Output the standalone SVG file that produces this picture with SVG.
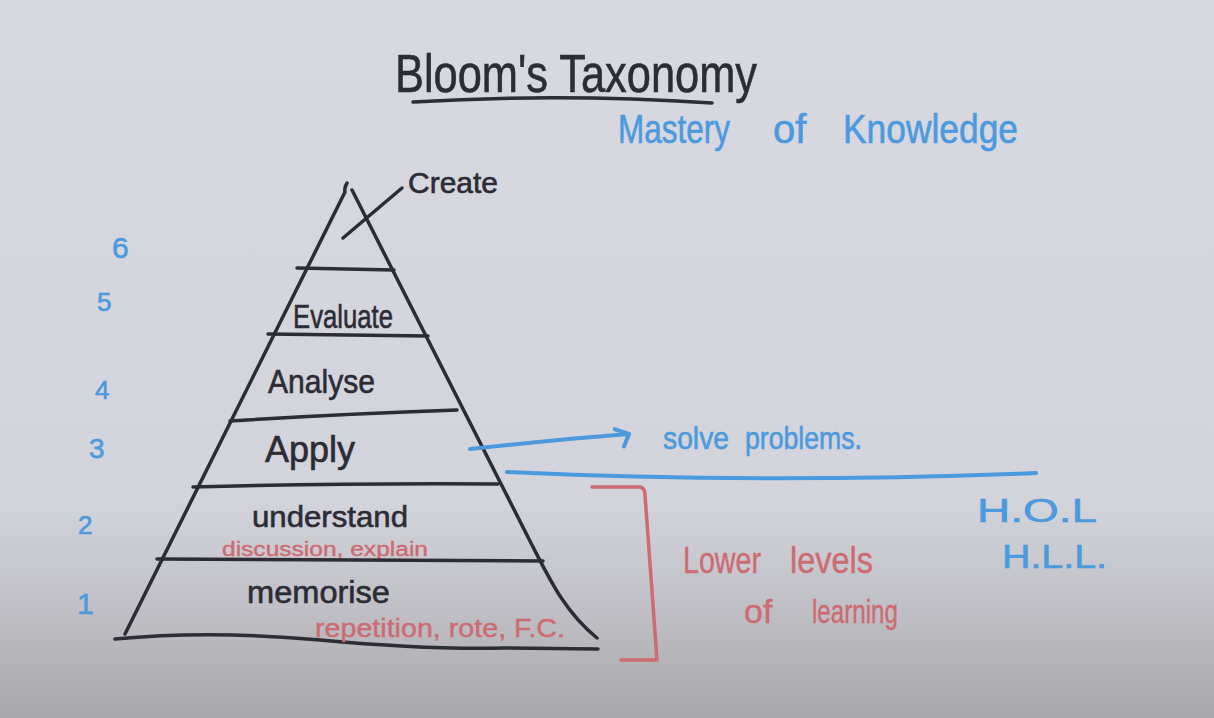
<svg xmlns="http://www.w3.org/2000/svg" width="1214" height="718" viewBox="0 0 1214 718">
  <style>
    .ink { fill: none; stroke: #2c2c34; stroke-width: 3.5; stroke-linecap: round; stroke-linejoin: round; }
    .blue-ink { fill: none; stroke: #4b9ade; stroke-width: 4; stroke-linecap: round; stroke-linejoin: round; }
    .red-ink { fill: none; stroke: #cd6b72; stroke-width: 3.5; stroke-linecap: round; stroke-linejoin: round; }
    text { font-family: "Liberation Sans", "DejaVu Sans", sans-serif; }
    .t-black { fill: #2c2c34; stroke: #2c2c34; stroke-width: 0.6; }
    .t-blue { fill: #4b9ade; stroke: #4b9ade; stroke-width: 0.6; }
    .t-red { fill: #cd6b72; stroke: #cd6b72; stroke-width: 0.4; }
  </style>
  <defs>
    <linearGradient id="board" x1="0" y1="0" x2="0" y2="1">
      <stop offset="0" stop-color="#d8d8e0"/>
      <stop offset="0.70" stop-color="#d3d3db"/>
      <stop offset="0.80" stop-color="#c6c6cd"/>
      <stop offset="0.90" stop-color="#b7b7bc"/>
      <stop offset="1" stop-color="#a8a8ab"/>
    </linearGradient>
    <marker id="chevron" markerUnits="userSpaceOnUse" viewBox="0 0 20 24" refX="16" refY="8" markerWidth="20" markerHeight="24" orient="auto">
      <path d="M2,2 L16,8 L10,20" fill="none" stroke="#4b9ade" stroke-width="4" stroke-linecap="round" stroke-linejoin="round"/>
    </marker>
  </defs>

  <!-- board background -->
  <rect x="0" y="0" width="1214" height="718" fill="url(#board)"/>

  <!-- heading -->
  <g id="title">
    <text class="t-black" x="395" y="92" font-size="54" textLength="362" lengthAdjust="spacingAndGlyphs">Bloom's Taxonomy</text>
    <path class="ink" d="M413,102 Q560,93 712,103" stroke-width="4"/>
  </g>
  <g id="subtitle">
    <text class="t-blue" font-size="40" y="143">
      <tspan x="618" textLength="112" lengthAdjust="spacingAndGlyphs">Mastery</tspan>
      <tspan x="773">of</tspan>
      <tspan x="843" textLength="175" lengthAdjust="spacingAndGlyphs">Knowledge</tspan>
    </text>
  </g>

  <!-- pyramid outline -->
  <g id="pyramid">
    <path class="ink" d="M347,183 Q344,188 345,192 L125,634"/>
    <path class="ink" d="M352,190 L532,545 C550,580 565,612 597,638"/>
    <path class="ink" d="M115,639 Q210,630 320,640 T504,648 L598,649" stroke-width="4"/>
  </g>

  <!-- tiers, top to bottom -->
  <g id="tier-create">
    <text class="t-black" x="408" y="193" font-size="30" textLength="90" lengthAdjust="spacingAndGlyphs">Create</text>
  </g>
  <g id="tier-evaluate">
    <path class="ink" d="M297,268 L394,270"/>
    <text class="t-black" x="293" y="328" font-size="34" textLength="100" lengthAdjust="spacingAndGlyphs">Evaluate</text>
  </g>
  <g id="tier-analyse">
    <path class="ink" d="M268,334 L428,336"/>
    <text class="t-black" x="268" y="393" font-size="34" textLength="107" lengthAdjust="spacingAndGlyphs">Analyse</text>
  </g>
  <g id="tier-apply">
    <path class="ink" d="M230,421 Q340,414 457,410"/>
    <text class="t-black" x="265" y="462" font-size="36" textLength="90" lengthAdjust="spacingAndGlyphs">Apply</text>
  </g>
  <g id="tier-understand">
    <path class="ink" d="M193,487 Q340,483 498,484"/>
    <text class="t-black" x="252" y="527" font-size="30" textLength="156" lengthAdjust="spacingAndGlyphs">understand</text>
    <text class="t-red" x="222" y="556" font-size="20" textLength="206" lengthAdjust="spacingAndGlyphs">discussion, explain</text>
  </g>
  <g id="tier-memorise">
    <path class="ink" d="M157,559 L543,561"/>
    <text class="t-black" x="247" y="603" font-size="31" textLength="143" lengthAdjust="spacingAndGlyphs">memorise</text>
    <text class="t-red" x="315" y="637" font-size="25" textLength="250" lengthAdjust="spacingAndGlyphs">repetition, rote, F.C.</text>
  </g>

  <!-- level numbers -->
  <g id="levels">
    <text class="t-blue" x="112" y="258" font-size="30">6</text>
    <text class="t-blue" x="97" y="311" font-size="26">5</text>
    <text class="t-blue" x="95" y="399" font-size="26">4</text>
    <text class="t-blue" x="89" y="458" font-size="28">3</text>
    <text class="t-blue" x="78" y="534" font-size="26">2</text>
    <text class="t-blue" x="77" y="614" font-size="30">1</text>
  </g>

  <!-- side notes -->
  <g id="note-solve">
    <text class="t-blue" font-size="32" y="449">
      <tspan x="663" textLength="66" lengthAdjust="spacingAndGlyphs">solve</tspan>
      <tspan x="745" textLength="117" lengthAdjust="spacingAndGlyphs">problems.</tspan>
    </text>
  </g>
  <g id="note-lower">
    <text class="t-red" font-size="36" y="573">
      <tspan x="683" textLength="78" lengthAdjust="spacingAndGlyphs">Lower</tspan>
      <tspan x="790" textLength="83" lengthAdjust="spacingAndGlyphs">levels</tspan>
    </text>
    <text class="t-red" font-size="34" y="623">
      <tspan x="744">of</tspan>
      <tspan x="812" textLength="86" lengthAdjust="spacingAndGlyphs">learning</tspan>
    </text>
  </g>
  <g id="note-hol">
    <text class="t-blue" x="977" y="522" font-size="34" textLength="120" lengthAdjust="spacingAndGlyphs">H.O.L</text>
    <text class="t-blue" x="1002" y="568" font-size="34" textLength="105" lengthAdjust="spacingAndGlyphs">H.L.L.</text>
  </g>

  <!-- connectors -->
  <g id="connectors">
    <path class="ink" d="M343,238 L402,188"/>
    <path class="blue-ink" d="M470,449 Q550,440 629,434" marker-end="url(#chevron)"/>
    <path class="blue-ink" d="M507,472 Q760,484 1036,473" stroke-width="3.5"/>
    <path class="red-ink" d="M592,487 L640,487 Q645,488 645,495 L657,660 L621,660"/>
  </g>
</svg>
